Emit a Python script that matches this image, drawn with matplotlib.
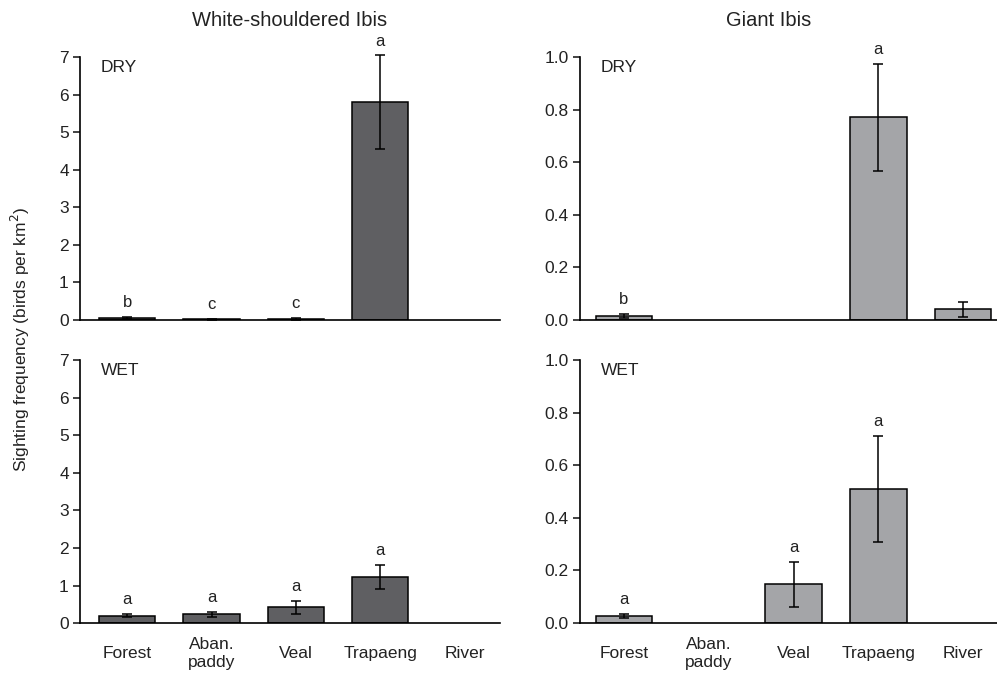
import matplotlib
matplotlib.use("Agg")
import matplotlib.pyplot as plt

plt.rcParams['font.family'] = ['Liberation Sans', 'DejaVu Sans']

habitats = ['Forest', 'Aban.\npaddy', 'Veal', 'Trapaeng', 'River']

# White-shouldered Ibis (None = no bar)
wsi_dry = [0.05, 0.02, 0.03, 5.8, None]
wsi_dry_err = [0.02, 0.01, 0.02, 1.24, None]
wsi_dry_lab = ['b', 'c', 'c', 'a', '']
wsi_wet = [0.2, 0.23, 0.42, 1.22, None]
wsi_wet_err = [0.03, 0.07, 0.18, 0.32, None]
wsi_wet_lab = ['a', 'a', 'a', 'a', '']

# Giant Ibis
gi_dry = [0.015, None, None, 0.77, 0.04]
gi_dry_err = [0.008, None, None, 0.205, 0.03]
gi_dry_lab = ['b', '', '', 'a', '']
gi_wet = [0.028, None, 0.148, 0.51, None]
gi_wet_err = [0.008, None, 0.085, 0.2, None]
gi_wet_lab = ['a', '', 'a', 'a', '']

dark = '#5f5f62'
light = '#a4a5a8'

fig = plt.figure(figsize=(9.97, 6.78), dpi=100)

def panel(rect, vals, errs, labs, color, ymax, yticks, fmt, season, xlabels, xlim):
    ax = fig.add_axes(rect)
    for i, (v, e, l) in enumerate(zip(vals, errs, labs)):
        if v is None:
            continue
        ax.bar(i, v, width=0.67, color=color, edgecolor='black', linewidth=1.1, zorder=2)
        eb = ax.errorbar(i, v, yerr=e, fmt='none', ecolor='black', elinewidth=1.1,
                         capsize=3.5, capthick=1.1, zorder=3)
        for child in eb.get_children():
            child.set_clip_on(False)
        if l:
            ax.annotate(l, (i, v + e), xytext=(0, 5), textcoords='offset points',
                        ha='center', va='bottom', fontsize=12, color='#222222',
                        annotation_clip=False)
    ax.set_xlim(*xlim)
    ax.set_ylim(0, ymax)
    ax.set_yticks(yticks)
    ax.set_yticklabels([fmt.format(t) for t in yticks])
    ax.spines['top'].set_visible(False)
    ax.spines['right'].set_visible(False)
    for s in ['left', 'bottom']:
        ax.spines[s].set_linewidth(1.2)
    ax.tick_params(axis='y', direction='out', length=5, width=1.2, pad=3,
                   labelsize=12.5, colors='#222222')
    ax.set_xticks(range(len(habitats)))
    if xlabels:
        ax.set_xticklabels(habitats, va='center', fontsize=12.5, color='#222222')
        ax.tick_params(axis='x', length=0, pad=22)
    else:
        ax.set_xticklabels([])
        ax.tick_params(axis='x', length=0)
    ax.text(0.05, 0.99, season, transform=ax.transAxes, ha='left', va='top',
            fontsize=12.5, color='#222222')
    return ax

lx, rx = 0.0802, 0.5817
w_l, w_r = 0.4213, 0.4183
top_b, bot_b, h = 0.528, 0.081, 0.388

panel([lx, top_b, w_l, h], wsi_dry, wsi_dry_err, wsi_dry_lab, dark, 7, range(0, 8), '{:d}', 'DRY', False, (-0.56, 4.42))
panel([lx, bot_b, w_l, h], wsi_wet, wsi_wet_err, wsi_wet_lab, dark, 7, range(0, 8), '{:d}', 'WET', True, (-0.56, 4.42))
gt = [0, 0.2, 0.4, 0.6, 0.8, 1.0]
panel([rx, top_b, w_r, h], gi_dry, gi_dry_err, gi_dry_lab, light, 1.0, gt, '{:.1f}', 'DRY', False, (-0.52, 4.4))
panel([rx, bot_b, w_r, h], gi_wet, gi_wet_err, gi_wet_lab, light, 1.0, gt, '{:.1f}', 'WET', True, (-0.52, 4.4))

fig.text(290 / 997, 1 - 20 / 678, 'White-shouldered Ibis', ha='center', va='center', fontsize=14.5, color='#222222')
fig.text(769 / 997, 1 - 20 / 678, 'Giant Ibis', ha='center', va='center', fontsize=14.5, color='#222222')
fig.text(20 / 997, 0.5, 'Sighting frequency (birds per km$^2$)', rotation=90,
         ha='center', va='center', fontsize=12.5, color='#222222')

fig.savefig('out.png', dpi=100)
